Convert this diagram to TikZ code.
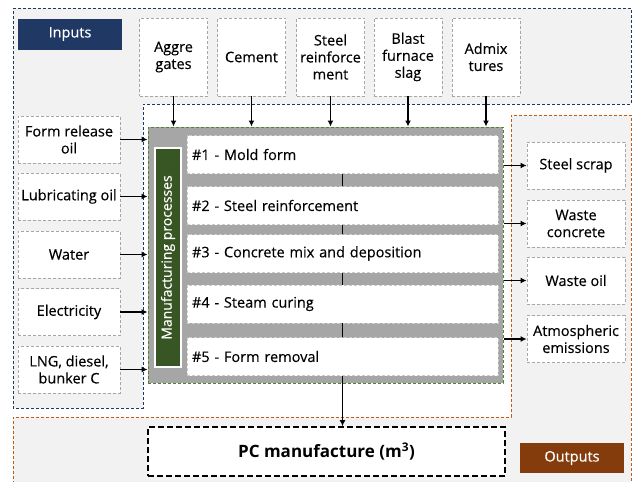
\documentclass[tikz,border=0pt]{standalone}
\usepackage{fontspec}
\setmainfont{Open Sans}[UprightFeatures={FakeBold=0.3}]
\usetikzlibrary{arrows.meta}
\definecolor{inblue}{HTML}{1F3864}
\definecolor{inedge}{HTML}{203864}
\definecolor{outbrown}{HTML}{843C0C}
\definecolor{outedge}{HTML}{C55A11}
\definecolor{mfggreen}{HTML}{375623}
\definecolor{mfgedge}{HTML}{548235}
\definecolor{regfill}{HTML}{F2F2F2}
\definecolor{procgray}{HTML}{A6A6A6}
\tikzstyle{inregion} = [draw=inedge, densely dashed, fill=regfill, line width=0.9]
\tikzstyle{outregion} = [draw=outedge, densely dashed, line width=0.9]
\tikzstyle{flowbox} = [rectangle, draw=gray!70, densely dashed, fill=white,
  align=center, inner sep=1pt, line width=0.9,
  font=\fontsize{14.5}{17}\selectfont]
\tikzstyle{topin} = [flowbox, minimum width=68, minimum height=78]
\tikzstyle{sidein} = [flowbox, minimum width=102, minimum height=47]
\tikzstyle{sideout} = [flowbox, minimum width=98, minimum height=47]
\tikzstyle{tag} = [rectangle, minimum width=104, minimum height=31,
  text=white, font=\fontsize{14.5}{17}\selectfont]
\tikzstyle{procbox} = [rectangle, draw=gray!40, densely dashed, fill=white,
  minimum width=311, minimum height=38, text width=301, inner xsep=5,
  align=left, font=\fontsize{14.5}{17}\selectfont]
\tikzstyle{arrow} = [-{Latex[length=6pt,width=6pt]}, line width=1.2]

\begin{document}
\begin{tikzpicture}[x=1pt, y=-1pt]
  \useasboundingbox (0,0) rectangle (638,482);
  % regions
  \path[inregion] (13,8) -- (631,8) -- (631,104) -- (143,104) -- (143,408)
    -- (13,408) -- cycle;
  \fill[regfill] (13,484) -- (13,417) -- (511,417) -- (511,115) -- (631,115)
    -- (631,484) -- cycle;
  \draw[outregion] (13,484) -- (13,417) -- (511,417) -- (511,115)
    -- (631,115) -- (631,484);

  \node (intag) [tag, fill=inblue] at (70,34) {Inputs};
  \node (outtag) [tag, fill=outbrown, minimum height=30] at (572,458) {Outputs};

  % inputs
  \node (agg) [topin] at (173.5,57) {Aggre\\gates};
  \node (cem) [topin] at (251.5,57) {Cement};
  \node (steel) [topin] at (330.5,57) {Steel\\reinforce\\ment};
  \node (slag) [topin] at (408,57) {Blast\\furnace\\slag};
  \node (admix) [topin] at (486,57) {Admix\\tures};
  \node (form) [sidein] at (69,139.5) {Form release\\oil};
  \node (lube) [sidein] at (69,196.5) {Lubricating oil};
  \node (water) [sidein] at (69,254.5) {Water};
  \node (elec) [sidein] at (69,312) {Electricity};
  \node (fuel) [sidein] at (69,369.5) {LNG, diesel,\\bunker C};

  % processes
  \node (proc) [rectangle, draw=mfgedge, densely dashed, fill=procgray,
    line width=1, minimum width=355, minimum height=256] at (325.5,255) {};
  \node (mfgbar) [rectangle, rotate=90, fill=mfggreen, draw=white,
    line width=1.2, minimum width=219, minimum height=26, text=white,
    font=\fontsize{14}{16}\selectfont] at (168,257.5)
    {Manufacturing processes};
  \node (p1) [procbox] at (342.5,154.5) {\#1 - Mold form};
  \node (p2) [procbox] at (342.5,205.5) {\#2 - Steel reinforcement};
  \node (p3) [procbox] at (342.5,253.5) {\#3 - Concrete mix and deposition};
  \node (p4) [procbox] at (342.5,304) {\#4 - Steam curing};
  \node (p5) [procbox] at (342.5,356.5) {\#5 - Form removal};

  % outputs
  \node (scrap) [sideout] at (576,165.5) {Steel scrap};
  \node (wconc) [sideout] at (576,223.5) {Waste\\concrete};
  \node (woil) [sideout] at (576,280.5) {Waste oil};
  \node (atmo) [sideout] at (576,339) {Atmospheric\\emissions};
  \node (pc) [rectangle, draw=black, dashed, dash pattern=on 6pt off 3pt,
    line width=1.6, fill=white, minimum width=357, minimum height=49,
    font=\fontsize{17}{20}\selectfont\bfseries] at (326.5,451.5)
    {PC manufacture (m\textsuperscript{3})};

  \foreach \n in {agg,cem,steel,slag,admix}
    \draw [arrow] (\n) -- (\n |- proc.north);
  \foreach \n in {form,lube,water,elec,fuel}
    \draw [arrow] (\n) -- (\n -| proc.west);
  \foreach \n in {scrap,wconc,woil,atmo}
    \draw [arrow] (\n -| proc.east) -- (\n);
  \draw [line width=1.3] (p1) -- (p2);
  \draw [line width=1.3] (p2) -- (p3);
  \draw [line width=1.3] (p3) -- (p4);
  \draw [line width=1.3] (p4) -- (p5);
  \draw [arrow] (p5) -- (p5 |- pc.north);
\end{tikzpicture}
\end{document}
